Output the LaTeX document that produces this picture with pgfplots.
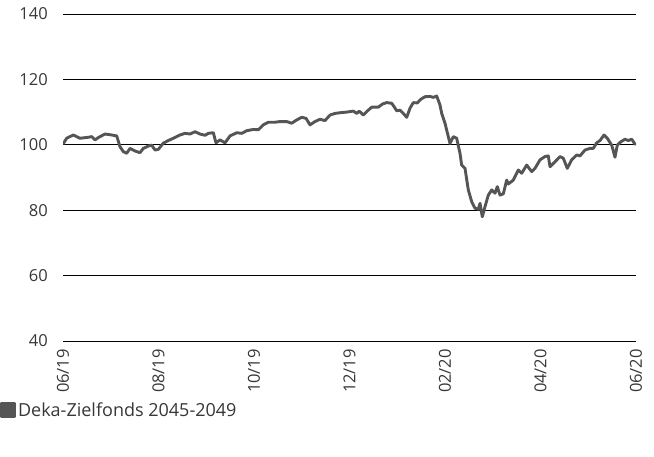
\documentclass[border=0pt]{standalone}
\usepackage{pgfplots}
\pgfplotsset{compat=1.18}
\usepackage{pgfplotstable}
\usepackage{fontspec}
\setmainfont{Open Sans}
\definecolor{linegray}{RGB}{85,85,85}
\definecolor{txt}{RGB}{55,55,55}
\pgfplotstableread{
m v
0 100.2
0.077 102
0.216 103
0.356 102
0.530 102.3
0.601 102.5
0.670 101.5
0.739 102.2
0.880 103.3
1.020 103
1.125 102.7
1.194 99.4
1.263 97.9
1.334 97.4
1.403 98.9
1.508 98.1
1.613 97.6
1.682 98.9
1.786 99.6
1.858 99.9
1.927 98.4
1.996 98.6
2.101 100.5
2.205 101.3
2.310 102
2.450 103
2.555 103.5
2.660 103.3
2.764 104
2.869 103.3
2.974 102.9
3.043 103.5
3.148 103.7
3.204 100.6
3.288 101.5
3.393 100.6
3.497 102.7
3.638 103.7
3.742 103.5
3.847 104.3
3.985 104.7
4.090 104.6
4.195 106.1
4.299 106.9
4.440 106.9
4.545 107.1
4.685 107.1
4.789 106.6
4.894 107.6
4.999 108.4
5.089 108.1
5.173 106.1
5.277 107.1
5.382 107.8
5.487 107.4
5.592 109.1
5.696 109.6
5.801 109.8
5.941 110
6.080 110.3
6.151 109.6
6.205 110.3
6.289 109.1
6.394 110.6
6.465 111.5
6.603 111.5
6.695 112.5
6.779 112.9
6.884 112.7
6.932 111.7
6.988 110.4
7.058 110.6
7.127 109.6
7.198 108.4
7.267 111.2
7.336 112.9
7.420 112.8
7.491 113.9
7.581 114.7
7.686 114.8
7.755 114.5
7.826 114.9
7.895 112.2
7.931 109.6
8.000 106.6
8.069 102.5
8.105 100.4
8.174 102.5
8.245 102
8.314 97.4
8.349 93.8
8.419 92.8
8.488 86.2
8.559 82.6
8.628 80.6
8.697 80.3
8.733 82.1
8.781 78
8.838 81.1
8.907 84.6
8.978 86.2
9.047 85.2
9.095 87.2
9.152 84.6
9.221 85
9.292 89.2
9.325 88
9.430 89.2
9.535 92.3
9.606 91.3
9.711 93.8
9.815 91.8
9.885 92.8
9.990 95.4
10.094 96.4
10.163 96.6
10.199 93.3
10.304 94.8
10.408 96.4
10.477 95.9
10.561 92.8
10.653 95.4
10.758 96.9
10.827 96.6
10.932 98.4
11.037 98.9
11.106 98.9
11.177 100.6
11.246 101.3
11.330 103
11.399 102
11.491 99.9
11.560 96.2
11.608 99.9
11.680 100.9
11.770 101.7
11.839 101.3
11.909 101.7
11.979 100.2
12 100.6
}\fonddata
\begin{document}
\begin{tikzpicture}
\useasboundingbox (0,0) rectangle (654pt,457pt);
\begin{axis}[
  at={(63pt,116pt)}, anchor=south west,
  scale only axis, width=573pt, height=327pt,
  xmin=0, xmax=12, ymin=40, ymax=140,
  xtick={0,2,4,6,8,10,12},
  xticklabels={06/19,08/19,10/19,12/19,02/20,04/20,06/20},
  ytick={40,60,80,100,120,140},
  ymajorgrids,
  grid style={black, line width=0.8pt},
  axis line style={draw=none},
  major tick length=0pt,
  tick style={draw=none},
  /pgf/number format/assume math mode=true,
  ticklabel style={font=\fontsize{16.5}{18}\selectfont, text=txt, inner sep=0pt},
  x tick label style={rotate=90, anchor=east},
  xticklabel shift=8pt,
  yticklabel shift=15pt,
  legend style={at={(axis description cs:-0.110,-0.211)}, anchor=west, draw=none, fill=none, inner sep=0pt,
    font=\fontsize{18}{20}\selectfont, text=txt},
  legend cell align=left,
  legend image code/.code={\fill[linegray] (0pt,-7pt) rectangle (13pt,7pt);},
]
\addplot[linegray, line width=2.9pt, line join=round] table[x=m, y=v] {\fonddata};
\addlegendentry{Deka-Zielfonds 2045-2049}
\end{axis}
\end{tikzpicture}
\end{document}
